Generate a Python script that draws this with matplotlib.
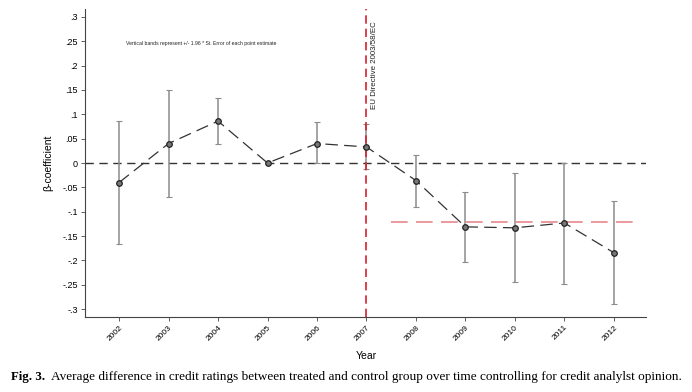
import matplotlib.pyplot as plt

plt.rcParams['font.family'] = ['Liberation Sans', 'DejaVu Sans']

years = [2002, 2003, 2004, 2005, 2006, 2007, 2008, 2009, 2010, 2011, 2012]
beta = [-0.040, 0.040, 0.086, 0.000, 0.040, 0.033, -0.036, -0.131, -0.133, -0.123, -0.184]
ci_hi = [0.086, 0.150, 0.134, 0.000, 0.084, 0.080, 0.016, -0.059, -0.021, 0.001, -0.077]
ci_lo = [-0.167, -0.069, 0.038, 0.000, 0.000, -0.013, -0.090, -0.204, -0.244, -0.249, -0.290]
post_mean = -0.121
yticks = [0.3, 0.25, 0.2, 0.15, 0.1, 0.05, 0, -0.05, -0.1, -0.15, -0.2, -0.25, -0.3]
ytick_labels = ['.3', '.25', '.2', '.15', '.1', '.05', '0', '-.05', '-.1', '-.15', '-.2', '-.25', '-.3']

fig = plt.figure(figsize=(6.92, 3.92), dpi=100)
ax = fig.add_axes([0.1228, 0.1913, 0.8107, 0.7857])

# confidence bands
err_lo = [b - l for b, l in zip(beta, ci_lo)]
err_hi = [h - b for b, h in zip(beta, ci_hi)]
ax.errorbar(years, beta, yerr=[err_lo, err_hi], fmt='none', ecolor='#8c8c8c',
            elinewidth=1.1, capsize=2.5, capthick=0.8, zorder=2)

ax.axhline(0, color='#333333', lw=1.0, ls=(0, (6, 4)), zorder=1)
ax.axvline(2007, color='#d4202c', lw=1.2, ls=(0, (5, 3)), zorder=3)
ax.hlines(post_mean, 2007.49, 2012.5, color='#e8868c', lw=1.2, ls=(0, (10, 5)), zorder=1)

ax.plot(years, beta, color='#333333', lw=0.9, ls=(0, (10, 5)), marker='o',
        markersize=4, markerfacecolor='#777777', markeredgecolor='#222222',
        markeredgewidth=0.9, zorder=4)

ax.text(2007.1, 0.291, 'EU Directive 2003/58/EC', rotation=90, va='top', ha='left',
        fontsize=5.7, color='#222222')
ax.text(2003.65, 0.246, 'Vertical bands represent +/- 1.96 * St. Error of each point estimate',
        ha='center', va='center', fontsize=3.7, color='#222222')

ax.set_xlim(2001.31, 2012.65)
ax.set_ylim(-0.316, 0.316)
ax.set_xticks(years)
ax.set_xticklabels([str(y) for y in years], rotation=45, ha='right',
                   rotation_mode='anchor', fontsize=6)
ax.set_yticks(yticks)
ax.set_yticklabels(ytick_labels, fontsize=6.5)
ax.tick_params(axis='both', length=3, width=0.6, color='#444444', pad=2)
for s in ['top', 'right']:
    ax.spines[s].set_visible(False)
for s in ['left', 'bottom']:
    ax.spines[s].set_color('#444444')
    ax.spines[s].set_linewidth(0.8)

ax.set_ylabel('β-coefficient', fontsize=7.5, labelpad=7)
ax.set_xlabel('Year', fontsize=7.5, labelpad=4)
ax.xaxis.set_label_coords((2007 - 2001.31) / (2012.65 - 2001.31), -0.11)

fig.text(0.016, 0.038, 'Fig. 3.', fontsize=9.3, family='Liberation Serif',
         weight='bold', va='center')
fig.text(0.074, 0.038, 'Average difference in credit ratings between treated and control '
         'group over time controlling for credit analylst opinion.', fontsize=9.5,
         family='Liberation Serif', va='center')

fig.savefig('out.png', dpi=100)
